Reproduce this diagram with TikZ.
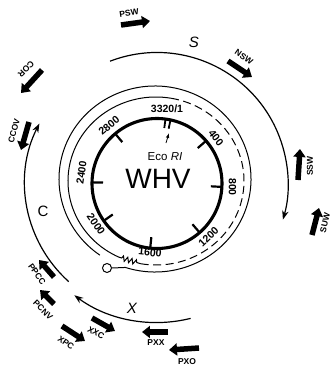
\documentclass[tikz,border=0pt]{standalone}
\usepackage{fontspec}
\setmainfont{Liberation Sans}
\usetikzlibrary{calc,arrows.meta,decorations.pathmorphing}
\begin{document}
\begin{tikzpicture}[x=1pt,y=1pt,
  thinline/.style={line width=1pt},
  blockarrow/.style={line width=5.5pt,-{Triangle[length=8pt,width=12pt]}},
  arcarrow/.style={line width=1.2pt,-{Stealth[length=9pt,width=6.5pt]}},
  gene/.style={font=\bfseries\fontsize{8.5}{9}\selectfont, inner sep=0pt},
  num/.style={font=\bfseries\fontsize{10.5}{11}\selectfont, inner sep=0pt},
  region/.style={font=\itshape\fontsize{15}{16}\selectfont, inner sep=0pt},
  tickline/.style={line width=2.2pt},
]
\useasboundingbox (0,0) rectangle (332,368);
\coordinate (O) at (157,184.5);
\coordinate (I) at (156,187);
\coordinate (U) at (155,189);
% main thick circle
\draw[line width=3.1pt] (O) circle[radius=65];
\foreach \a in {41,-3,-49,-96,-145,179,130}
  \draw[tickline] ($(O)+(\a:66)$) -- ($(O)+(\a:54)$);
\draw[line width=1.8pt] ($(O)+(82.5:66)$) -- ($(O)+(82.5:56)$);
\draw[line width=1.8pt] ($(O)+(78:66)$) -- ($(O)+(78:56)$);
% numbers
\node[num] (n0) at (167,259) {3320/1};
\node[num,rotate=-52] (n400) at (216,230) {400};
\node[num,rotate=-90] (n800) at (232.5,181) {800};
\node[num,rotate=44] (n1200) at (208.5,131) {1200};
\node[num,rotate=-6] (n1600) at (150,115.5) {1600};
\node[num,rotate=-56] (n2000) at (96,144) {2000};
\node[num,rotate=82] (n2400) at (81.5,195.5) {2400};
\node[num,rotate=40] (n2800) at (109,242.5) {2800};
% EcoRI
\coordinate (ea) at (166,225);
\coordinate (eb) at (169,235);
\draw[line width=0.8pt,-{Latex[length=5pt,width=3.5pt]}] (ea) -- (eb);
\node[font=\fontsize{11.5}{12}\selectfont, inner sep=0pt] (eco) at (165,211) {Eco \textit{RI}};
\node[font=\fontsize{28}{30}\selectfont, inner sep=0pt] (whv) at (158,189) {WHV};
% inner thin ring
\draw[thinline] ($(I)+(80:88 and 84)$) arc[start angle=80, end angle=245, x radius=88, y radius=84];
\draw[thinline, decorate, decoration={zigzag,segment length=4.5pt,amplitude=2.5pt,pre length=3pt,post length=3pt}] ($(I)+(245:88 and 84)$) -- ($(I)+(260:88 and 84)$);
\draw[thinline, dash pattern=on 8pt off 4.5pt] ($(I)+(260:88 and 84)$) arc[start angle=260, end angle=440, x radius=88, y radius=84];
% outer thin ring
\node[draw, circle, thinline, minimum size=9pt, inner sep=0pt] (ori) at (107,100) {};
\draw[thinline] (ori.east) -- ($(U)+(252:96 and 93)$) arc[start angle=252, end angle=595, x radius=96, y radius=93];
% region arcs
\draw[arcarrow] ($(O)+(111:131)$) arc[start angle=111, end angle=-16, radius=131];
\draw[arcarrow] ($(O)+(228:132)$) arc[start angle=228, end angle=153, radius=132];
\draw[arcarrow] ($(O)+(284:139)$) arc[start angle=284, end angle=233.5, radius=139];
\node[region] (S) at (194,326) {S};
\node[region, font=\fontsize{15}{16}\selectfont] (C) at (43,157) {C};
\node[region] (X) at (132,60) {X};
% block arrows
\draw[blockarrow] (121,343) -- (150,347);
\node[gene,rotate=8] (psw) at (129,355) {PSW};
\draw[blockarrow] (228,307) -- (252,291);
\node[gene,rotate=-35] (nsw) at (244,311) {NSW};
\draw[blockarrow] (298,188) -- (300,219);
\node[gene,rotate=90] (ssw) at (310,202) {SSW};
\draw[blockarrow] (312,133) -- (319,160);
\node[gene,rotate=77] (suw) at (325,145) {SUW};
\draw[blockarrow] (42,298) -- (21,275);
\node[gene,rotate=-135] (cor) at (26,299) {COR};
\draw[blockarrow] (29,246) -- (21,218);
\node[gene,rotate=75] (ccov) at (14,237) {CCOV};
\draw[blockarrow] (54,91) -- (39,108);
\node[gene,rotate=-55] (ppcc) at (37,94) {PPCC};
\draw[blockarrow] (54,64) -- (40,78);
\node[gene,rotate=-45] (pcnv) at (43,58) {PCNV};
\draw[blockarrow] (62,42) -- (85,27);
\node[gene,rotate=-35] (xpc) at (66,25) {XPC};
\draw[blockarrow] (92,50) -- (115,37);
\node[gene,rotate=-30] (xxc) at (96,35) {XXC};
\draw[blockarrow] (168,36) -- (142,36);
\node[gene] (pxx) at (156,25) {PXX};
\draw[blockarrow] (199,20) -- (169,18);
\node[gene] (pxo) at (187,6) {PXO};
\end{tikzpicture}
\end{document}
